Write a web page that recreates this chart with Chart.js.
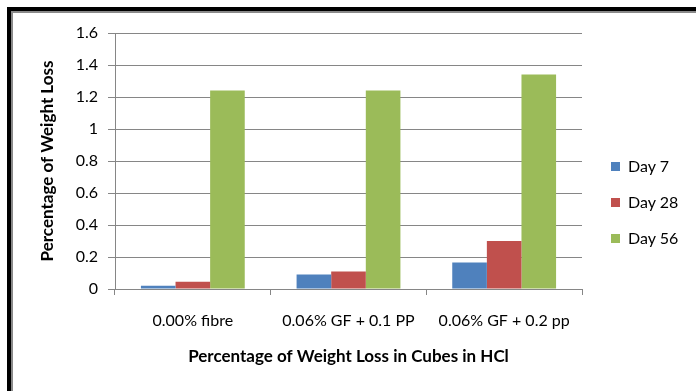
<!DOCTYPE html>
<html>
<head>
<meta charset="utf-8">
<script src="https://cdn.jsdelivr.net/npm/chart.js@4/dist/chart.umd.min.js"></script>
<style>
  html, body { margin: 0; padding: 0; background: #fff; }
  #wrap { position: relative; width: 696px; height: 391px; overflow: hidden; background: #fff; }
  #frame { position: absolute; left: 7px; top: 7px; width: 700px; height: 400px;
           border-left: 4px solid #000; border-top: 4px solid #000; }
  #frame2 { position: absolute; left: 11px; top: 11px; width: 700px; height: 400px;
           border-left: 2px solid #8a8a8a; border-top: 2px solid #8a8a8a; }
  #c { position: absolute; left: 0; top: 0; }
  #legend { position: absolute; left: 611px; top: 156px; font-family: Lato, "Open Sans", sans-serif; font-size: 16px; color: #000; }
  .li { height: 36px; display: flex; align-items: flex-start; }
  .sw { width: 9px; height: 9px; margin-top: 6px; margin-right: 8px; }
</style>
</head>
<body>
<div id="wrap">
  <div id="frame"></div>
  <div id="frame2"></div>
  <canvas id="c" width="696" height="391"></canvas>
  <div id="legend"></div>
</div>
<script>
const categories = ["0.00% fibre", "0.06% GF + 0.1 PP", "0.06% GF + 0.2 pp"];
const seriesNames = ["Day 7", "Day 28", "Day 56"];
const day7 = [0.02, 0.09, 0.165];
const day28 = [0.045, 0.11, 0.30];
const day56 = [1.24, 1.24, 1.34];
const seriesColors = ["#4F81BD", "#C0504D", "#9BBB59"];
const xTitle = "Percentage of Weight Loss in Cubes in HCl";
const yTitle = "Percentage of Weight Loss";

const values = [day7, day28, day56];
const datasets = seriesNames.map((n, i) => ({
  label: n, data: values[i], backgroundColor: seriesColors[i],
  borderWidth: 0, categoryPercentage: 0.667, barPercentage: 1.0
}));

const leg = document.getElementById('legend');
seriesNames.forEach((n, i) => {
  const d = document.createElement('div'); d.className = 'li';
  const s = document.createElement('div'); s.className = 'sw'; s.style.background = seriesColors[i];
  const t = document.createElement('span'); t.textContent = n;
  d.appendChild(s); d.appendChild(t); leg.appendChild(d);
});

const font = { family: "Lato, 'Open Sans', sans-serif", size: 16 };
const titleFont = { family: "Lato, 'Open Sans', sans-serif", size: 17, weight: 'bold' };
new Chart(document.getElementById('c'), {
  type: 'bar',
  data: { labels: categories, datasets },
  options: {
    responsive: false, animation: false,
    layout: { padding: { left: 37, right: 114, top: 33, bottom: 24 } },
    plugins: { legend: { display: false }, tooltip: { enabled: false } },
    scales: {
      x: {
        grid: { display: true, offset: true, drawOnChartArea: false, drawTicks: true, tickLength: 6, color: '#868686' },
        border: { color: '#868686', width: 1 },
        ticks: { color: '#000', font, padding: 16, maxRotation: 0 },
        title: { display: true, text: xTitle, color: '#000', font: titleFont, padding: { top: 8, bottom: 0 } },
        afterFit(s) { s.height = 78; }
      },
      y: {
        min: 0, max: 1.6,
        grid: { color: '#868686', tickLength: 7, drawTicks: true },
        border: { color: '#868686', width: 1 },
        ticks: { stepSize: 0.2, color: '#000', font, padding: 10,
                 callback: v => String(Math.round(v * 10) / 10) },
        title: { display: true, text: yTitle, color: '#000', font: titleFont, padding: { top: 0, bottom: 10 } },
        afterFit(s) { s.width = 78; }
      }
    }
  }
});
</script>
</body>
</html>
